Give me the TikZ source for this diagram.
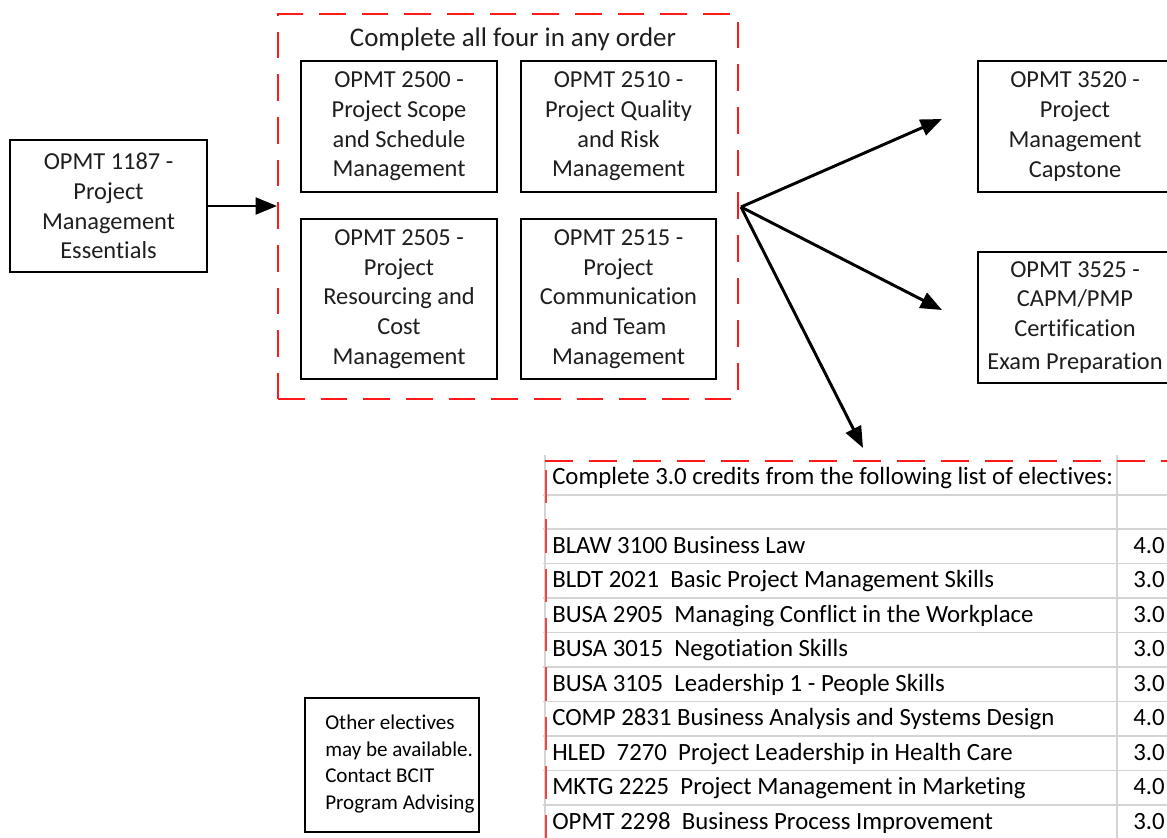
\documentclass[tikz,border=0pt]{standalone}
\usepackage{fontspec}
\setmainfont{Carlito}[Ligatures=NoCommon]
\usetikzlibrary{arrows.meta, positioning}
\definecolor{dashred}{RGB}{255,25,25}
\definecolor{tablered}{RGB}{238,70,70}
\definecolor{gridgray}{RGB}{212,212,212}
\definecolor{inkgray}{RGB}{30,30,30}

\tikzset{
	course/.style={draw, line width=1pt, align=center, text=inkgray, inner sep=0pt, font=\fontsize{18.3}{22.3}\selectfont},
	fanarrow/.style={line width=2.2pt, -{Triangle[length=16pt,width=12.5pt]}},
	celltext/.style={anchor=west, inner sep=0pt, text height=13.5pt, text depth=4pt, text=black, font=\fontsize{18.6}{22}\selectfont},
	notetext/.style={anchor=west, align=left, inner sep=0pt, text=black, font=\fontsize{15.8}{20.2}\selectfont},
}

\begin{document}
\begin{tikzpicture}[x=0.75pt, y=-0.75pt]
	\def\pxu{0.75pt}
	\def\rowh{34.5}

	\useasboundingbox (0,0) rectangle (1167,838);
	\clip (0,0) rectangle (1167,838);

	% first course and the group of four
	\node[course, minimum width=197*\pxu, minimum height=132*\pxu] (essentials) at (108.5,206) {OPMT 1187 -\\Project\\Management\\Essentials};
	\node[draw=dashred, line width=1.5pt, dash pattern=on 20pt off 12pt, minimum width=460*\pxu, minimum height=385*\pxu] (core) at (508,206.5) {};
	\node[text=inkgray, inner sep=0pt, font=\fontsize{20.2}{24}\selectfont] (coretitle) at (513,39) {Complete all four in any order};

	\node[course, minimum width=196*\pxu, minimum height=131*\pxu] (scope) at (399,126.5) {OPMT 2500 -\\Project Scope\\and Schedule\\Management};
	\node[course, minimum width=195*\pxu, minimum height=131*\pxu] (quality) at (618.5,126.5) {OPMT 2510 -\\Project Quality\\and Risk\\Management};
	\node[course, minimum width=196*\pxu, minimum height=160*\pxu] (resourcing) at (399,299) {OPMT 2505 -\\Project\\Resourcing and\\Cost\\Management};
	\node[course, minimum width=195*\pxu, minimum height=160*\pxu] (communication) at (618.5,299) {OPMT 2515 -\\Project\\Communication\\and Team\\Management};

	% last courses
	\node[course, minimum width=194*\pxu, minimum height=131*\pxu] (capstone) at (1075,126.5) {OPMT 3520 -\\Project\\Management\\Capstone};
	\node[course, minimum width=194*\pxu, minimum height=131*\pxu] (exam) at (1075,317.5) {OPMT 3525 -\\CAPM/PMP\\Certification\\[2.5pt]Exam Preparation};

	\draw[fanarrow] (essentials.east) -- (essentials.east -| core.west);
	\coordinate (fan) at (741,207);
	\coordinate (tipA) at (942,119);
	\coordinate (tipB) at (942,310);
	\coordinate (tipC) at (863,448);
	\foreach \t in {tipA,tipB,tipC}
		\draw[fanarrow] (fan) -- (\t);

	% electives table
	\draw[gridgray, line width=1pt] (543,495) -- (1167,495);
	\foreach \k in {0,...,8}
		\draw[gridgray, line width=1pt] (543,{529+\rowh*\k}) -- (1167,{529+\rowh*\k});
	\draw[gridgray, line width=1pt] (545,455) -- (545,838);
	\draw[gridgray, line width=1pt] (1117,455) -- (1117,838);
	\draw[dashred, line width=1.5pt, dash pattern=on 21pt off 12pt] (545,461) -- (1167,461);
	\draw[tablered, line width=1.5pt, dash pattern=on 25pt off 12pt] (546,470) -- (546,838);

	\node[celltext] (electhead) at (552,478) {Complete 3.0 credits from the following list of electives:};
	\foreach \course/\cred [count=\i from 0] in {
		{BLAW 3100 Business Law}/4.0,
		{BLDT 2021~~Basic Project Management Skills}/3.0,
		{BUSA 2905~~Managing Conflict in the Workplace}/3.0,
		{BUSA 3015~~Negotiation Skills}/3.0,
		{BUSA 3105~~Leadership 1 - People Skills}/3.0,
		{COMP 2831 Business Analysis and Systems Design}/4.0,
		{HLED~~7270~~Project Leadership in Health Care}/3.0,
		{MKTG 2225~~Project Management in Marketing}/4.0,
		{OPMT 2298~~Business Process Improvement}/3.0}
	{
		\node[celltext] (elective\i) at (552,{547+\rowh*\i}) {\course};
		\node[celltext] (credit\i) at (1133,{547+\rowh*\i}) {\cred};
	}

	% note
	\node[draw, line width=0.8pt, minimum width=174*\pxu, minimum height=134*\pxu] (note) at (392,765) {};
	\node[notetext] (notebody) at (325,764) {Other electives\\may be available.\\Contact BCIT\\Program Advising};
\end{tikzpicture}
\end{document}
